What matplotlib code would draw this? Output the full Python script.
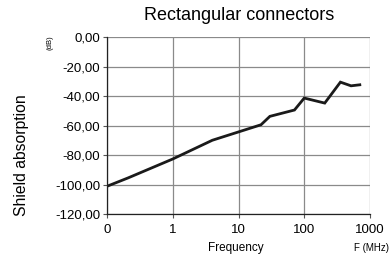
import matplotlib
matplotlib.use("Agg")
import matplotlib.pyplot as plt

plt.rcParams['font.family'] = ['Liberation Sans', 'DejaVu Sans']

# frequency (MHz) and shield absorption (dB)
freq = [0.1, 0.21, 1.0, 4.0, 22, 30, 71, 100, 205, 355, 515, 700]
absorption = [-101, -95.3, -82.5, -69.8, -59.3, -53.6, -49.3, -41.2, -44.6, -30.4, -32.9, -32.2]

x_ticks = [0.1, 1, 10, 100, 1000]
x_tick_labels = ["0", "1", "10", "100", "1000"]
y_ticks = [0, -20, -40, -60, -80, -100, -120]
y_tick_labels = ["0,00", "-20,00", "-40,00", "-60,00", "-80,00", "-100,00", "-120,00"]


def main():
    fig = plt.figure(figsize=(3.9, 2.59), dpi=100)
    ax = fig.add_axes([0.2744, 0.1726, 0.9487 - 0.2744, 0.856 - 0.1726])

    ax.plot(freq, absorption, color='#1a1a1a', linewidth=2.0, solid_joinstyle='miter')

    ax.set_xscale('log')
    ax.set_xlim(0.1, 1000)
    ax.set_ylim(-120, 0)
    ax.set_xticks(x_ticks)
    ax.set_xticklabels(x_tick_labels)
    ax.minorticks_off()
    ax.set_yticks(y_ticks)
    ax.set_yticklabels(y_tick_labels)
    ax.tick_params(axis='both', labelsize=9.5, length=3, width=0.8, color='#555555')
    ax.tick_params(axis='y', pad=2)
    ax.tick_params(axis='x', pad=4)

    ax.grid(True, color='#8a8a8a', linewidth=0.9)
    for s in ['top', 'right']:
        ax.spines[s].set_visible(False)
    for s in ['left', 'bottom']:
        ax.spines[s].set_color('#222222')
        ax.spines[s].set_linewidth(0.9)

    fig.text(239 / 390, 1 - 15 / 259, "Rectangular connectors", ha='center', va='center', fontsize=13)
    fig.text(22 / 390, 1 - 155 / 259, "Shield absorption", ha='center', va='center',
             rotation=90, fontsize=11.3)
    fig.text(50 / 390, 1 - 43 / 259, "(dB)", ha='center', va='center', rotation=90, fontsize=5.5)
    fig.text(236 / 390, 1 - 248 / 259, "Frequency", ha='center', va='center', fontsize=8.5)
    fig.text(371 / 390, 1 - 248 / 259, "F (MHz)", ha='center', va='center', fontsize=7)

    fig.savefig("out.png", dpi=100)


if __name__ == '__main__':
    main()
